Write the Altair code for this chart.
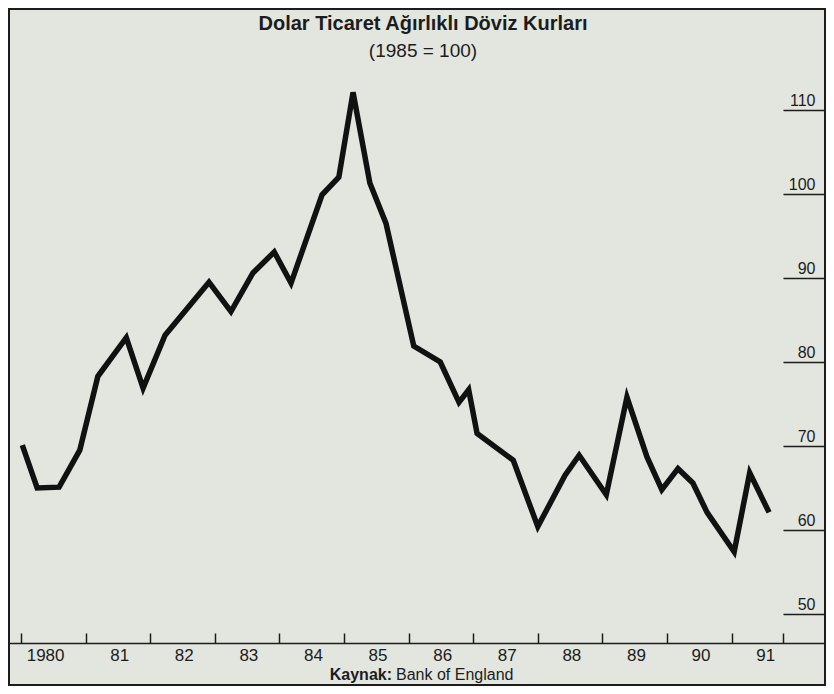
import json
import altair as alt
import pandas as pd

# ---- data (decimal year, index value) ----
TIMES = [1980.02, 1980.25, 1980.59, 1980.91, 1981.19, 1981.63, 1981.89, 1982.23,
         1982.91, 1983.25, 1983.59, 1983.92, 1984.18, 1984.66, 1984.92, 1985.14,
         1985.40, 1985.65, 1986.08, 1986.49, 1986.78, 1986.93, 1987.06, 1987.62,
         1988.00, 1988.42, 1988.64, 1989.06, 1989.38, 1989.69, 1989.92, 1990.17,
         1990.40, 1990.62, 1991.04, 1991.28, 1991.58]
VALUES = [70.1, 65.0, 65.1, 69.5, 78.3, 82.9, 76.9, 83.2,
          89.5, 86.0, 90.6, 93.1, 89.4, 99.9, 102.0, 112.1,
          101.3, 96.5, 81.9, 80.0, 75.2, 76.7, 71.5, 68.3,
          60.4, 66.5, 68.9, 64.2, 75.8, 68.7, 64.8, 67.3,
          65.6, 62.1, 57.4, 66.8, 62.1]

X_TICKS = [1980, 1981, 1982, 1983, 1984, 1985, 1986, 1987, 1988, 1989, 1990, 1991, 1991.8]
X_LABELS = ["1980", "81", "82", "83", "84", "85", "86", "87", "88", "89", "90", "91"]
Y_TICKS = [50, 60, 70, 80, 90, 100, 110]

TITLE = "Dolar Ticaret Ağırlıklı Döviz Kurları"
SUBTITLE = "(1985 = 100)"
SOURCE_BOLD = "Kaynak:"
SOURCE_TEXT = "Bank of England"

df = pd.DataFrame({"t": TIMES, "v": VALUES})

FONT = "Liberation Sans"
INK = "#1c1c1c"
BG = "#e2e6df"

label_expr = (
    "datum.value == floor(datum.value) && datum.value <= 1991 ? "
    + json.dumps(X_LABELS)
    + "[datum.value - 1980] : ''"
)

x_scale = alt.Scale(domain=[1979.8142, 1992.4458], nice=False, zero=False)
y_scale = alt.Scale(domain=[41.548, 122.024], nice=False, zero=False)

x_axis = alt.Axis(
    orient="top", offset=-634, values=X_TICKS, title=None, grid=False,
    domain=True, domainColor=INK, domainWidth=1.5,
    ticks=True, tickSize=10, tickWidth=1.5, tickColor=INK,
    labelExpr=label_expr, labelAlign="right", labelBaseline="top",
    labelOffset=43, labelPadding=-14, labelFont=FONT, labelFontSize=17,
    labelColor=INK, labelFlush=False, labelOverlap=False,
)

y_axis = alt.Axis(
    orient="right", offset=-42, values=Y_TICKS, title=None, grid=False,
    domain=False, ticks=True, tickSize=42, tickWidth=1.5, tickColor=INK,
    labelAlign="right", labelBaseline="alphabetic", labelOffset=-5,
    labelPadding=-10, labelFont=FONT, labelFontSize=16, labelColor=INK,
    labelFlush=False, labelOverlap=False,
)

line = alt.Chart(df).mark_line(color="#111111", strokeWidth=5.5).encode(
    x=alt.X("t:Q", scale=x_scale, axis=x_axis),
    y=alt.Y("v:Q", scale=y_scale, axis=y_axis),
)

one = pd.DataFrame({"a": [0]})
src_bold = alt.Chart(one).mark_text(
    font=FONT, fontSize=16, fontWeight="bold", align="right",
    baseline="middle", color=INK,
).encode(x=alt.value(383), y=alt.value(666), text=alt.value(SOURCE_BOLD))

src_text = alt.Chart(one).mark_text(
    font=FONT, fontSize=16, fontWeight="normal", align="left",
    baseline="middle", color=INK,
).encode(x=alt.value(387), y=alt.value(666), text=alt.value(SOURCE_TEXT))

chart = alt.layer(line, src_bold, src_text).properties(
    width=816,
    height=676,
    autosize=alt.AutoSizeParams(type="none"),
    padding={"left": 1, "top": 1, "right": 1, "bottom": 1},
    background=BG,
    title=alt.TitleParams(
        text=TITLE, subtitle=SUBTITLE, orient="top", anchor="middle",
        frame="group", offset=-51.6, dx=6, baseline="top",
        font=FONT, fontSize=20, fontWeight="bold", color=INK,
        subtitleFont=FONT, subtitleFontSize=19, subtitleColor=INK,
        subtitlePadding=7.2,
    ),
).configure_view(stroke=INK, strokeWidth=2)

chart.save("out.html", embed_options={"renderer": "svg", "actions": False})
